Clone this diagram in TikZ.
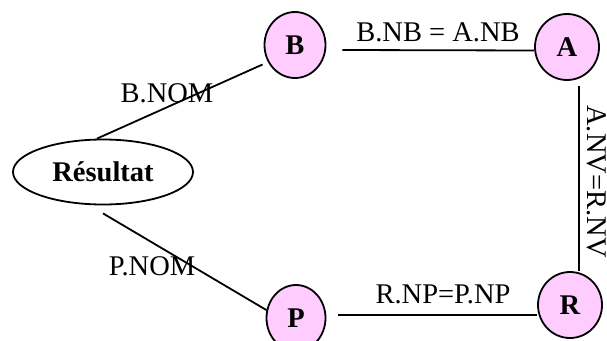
\documentclass[tikz,border=0pt]{standalone}
\usepackage{fontspec}
\setmainfont{Liberation Serif}
\usetikzlibrary{shapes.geometric}
\definecolor{relpink}{HTML}{FFCCFF}
\tikzset{
  rel/.style={ellipse, draw, line width=1.8pt, fill=relpink, inner sep=0pt,
    minimum width=61pt, minimum height=66pt, font=\fontsize{28.5}{30}\selectfont\bfseries},
  result/.style={ellipse, draw, line width=1.8pt, fill=white, inner sep=0pt,
    minimum width=180pt, minimum height=65pt, font=\fontsize{28.5}{30}\selectfont\bfseries},
  joinline/.style={line width=1.8pt},
  cond/.style={inner sep=0pt, font=\fontsize{28.5}{30}\selectfont}
}
\begin{document}
\begin{tikzpicture}[x=1pt, y=-1pt]
  \useasboundingbox (0,0) rectangle (607,340);

  % relations and result
  \node[result] (res) at (103,172) {Résultat};
  \node[rel] (B) at (295,45) {B};
  \node[rel, minimum width=64pt] (A) at (567,47) {A};
  \node[rel, minimum width=64pt] (R) at (570,305) {R};
  \node[rel, minimum width=59pt] (P) at (296,318) {P};

  % join edges
  \draw[joinline] ([xshift=-6pt]res.north) -- ([shift={(-5pt,-3pt)}]B.211);
  \draw[joinline] ([yshift=-8pt]res.south) -- (P.165);
  \draw[joinline] ([shift={(16pt,-5pt)}]B.east) -- ([yshift=-3.5pt]A.west);
  \draw[joinline] ([shift={(12pt,-5pt)}]A.south) -- ([xshift=9pt]R.north);
  \draw[joinline] ([shift={(11.5pt,3pt)}]P.east) -- ([yshift=-10pt]R.west);

  % join conditions
  \node[cond] (lbn) at (167,93) {B.NOM};
  \node[cond] (lpn) at (152,266) {P.NOM};
  \node[cond] (lba) at (438,32.5) {B.NB = A.NB};
  \node[cond] (lrp) at (443,294) {R.NP=P.NP};
  \node[cond, rotate=-90] (lar) at (597,181.5) {A.NV=R.NV};
\end{tikzpicture}
\end{document}
